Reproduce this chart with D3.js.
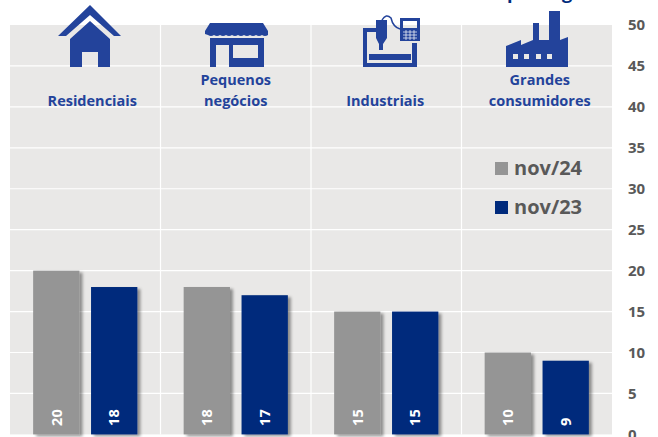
<!DOCTYPE html>
<html lang="pt-BR">
<head>
<meta charset="UTF-8" />
<title>Segmentos</title>
<style>
    html, body { margin: 0; padding: 0; background: #fff; overflow: hidden; }
    text { font-family: "Open Sans", "Noto Sans", sans-serif; font-weight: 700; }
</style>
</head>
<body>
<svg id="chart" width="658" height="437"></svg>
<script src="https://d3js.org/d3.v7.min.js"></script>
<script>
const categories = [['Residenciais'], ['Pequenos', 'negócios'], ['Industriais'], ['Grandes', 'consumidores']];
const seriesNames = ['nov/24', 'nov/23'];
const nov24 = [20, 18, 15, 10];
const nov23 = [18, 17, 15, 9];
const yTicks = [0, 5, 10, 15, 20, 25, 30, 35, 40, 45, 50];

const blue = '#23439B', gray = '#959595', navy = '#002A7C', tickGray = '#595959';
const svg = d3.select('#chart');
const plot = { left: 10, right: 612, top: 25, bottom: 434.4 };

const x = d3.scaleBand().domain(d3.range(categories.length)).range([plot.left, plot.right]);
const x1 = d3.scaleBand().domain(seriesNames).range([0, x.bandwidth()]).paddingInner(0.2).paddingOuter(0.4);
const y = d3.scaleLinear().domain([0, 50]).range([plot.bottom, plot.top]);
const color = d3.scaleOrdinal(seriesNames, [gray, navy]);

// sombra das barras
svg.append('defs').append('filter').attr('id', 'shadow')
    .attr('x', '-10%').attr('y', '-5%').attr('width', '130%').attr('height', '115%')
    .append('feDropShadow')
    .attr('dx', 3).attr('dy', 2).attr('stdDeviation', 1.5)
    .attr('flood-color', '#000').attr('flood-opacity', 0.4);

svg.append('rect').attr('x', plot.left).attr('y', plot.top)
    .attr('width', plot.right - plot.left).attr('height', plot.bottom - plot.top).attr('fill', '#E9E8E7');

// grade
svg.append('g').selectAll('line').data(yTicks.filter(d => d > 0 && d < 50)).join('line')
    .attr('x1', plot.left).attr('x2', plot.right).attr('y1', d => y(d)).attr('y2', d => y(d))
    .attr('stroke', '#fff').attr('stroke-width', 1.2);
svg.append('g').selectAll('line').data(d3.range(1, categories.length)).join('line')
    .attr('x1', d => x(d)).attr('x2', d => x(d)).attr('y1', plot.top).attr('y2', plot.bottom)
    .attr('stroke', '#fff').attr('stroke-width', 1.2);

// eixo y a direita
const yAxis = svg.append('g').attr('transform', `translate(${plot.right},0)`)
    .call(d3.axisRight(y).tickValues(yTicks).tickSize(0).tickPadding(16));
yAxis.select('.domain').remove();
yAxis.selectAll('text').attr('font-size', 15).attr('fill', tickGray).style('font-family', '"Open Sans", sans-serif');

// barras
const rows = categories.map((c, i) => [
    { s: seriesNames[0], v: nov24[i], i },
    { s: seriesNames[1], v: nov23[i], i }
]).flat();
svg.append('g').selectAll('rect').data(rows).join('rect')
    .attr('x', d => x(d.i) + x1(d.s))
    .attr('y', d => y(d.v))
    .attr('width', x1.bandwidth())
    .attr('height', d => y(0) - y(d.v))
    .attr('fill', d => color(d.s))
    .attr('filter', 'url(#shadow)');

// rotulos das barras
svg.append('g').selectAll('text').data(rows).join('text')
    .attr('transform', d => `translate(${x(d.i) + x1(d.s) + x1.bandwidth() / 2},${y(0) - 8.5}) rotate(-90)`)
    .attr('dy', '0.36em')
    .attr('font-size', 14.5)
    .attr('fill', '#fff')
    .text(d => d.v);

// nomes das categorias
const labelShift = [7, 0, -1, 3];
const labels = svg.append('g').selectAll('text').data(categories).join('text')
    .attr('text-anchor', 'middle')
    .attr('font-size', 14.5)
    .attr('fill', blue)
    .attr('transform', (d, i) => `translate(${x(i) + x.bandwidth() / 2 + labelShift[i]},0)`);
labels.selectAll('tspan').data(d => d).join('tspan')
    .attr('x', 0)
    .attr('y', function (d, j) {
        const n = d3.select(this.parentNode).datum().length;
        return 106 - (n - 1 - j) * 21.5;
    })
    .text(d => d);

// legenda
const legend = svg.append('g').selectAll('g').data(seriesNames).join('g')
    .attr('transform', (d, i) => `translate(495,${168 + i * 39})`);
legend.append('rect').attr('y', -6).attr('width', 13).attr('height', 13).attr('fill', d => color(d));
legend.append('text').attr('x', 19).attr('y', 6.5).attr('font-size', 20).attr('fill', tickGray).text(d => d);

// icones
const icons = svg.append('g').attr('fill', blue);
icons.append('path').attr('d', 'M90 5 L121 36 L114 36 L90 15 L66 36 L58 36 Z M90 21 L110 39 L110 67 L98 67 L98 52 L82 52 L82 67 L70 67 L70 39 Z');
icons.append('path').attr('d', 'M210 23 L263 23 L268 31 L268 35 Q265 37 262 35 Q259 37 256 35 Q253 37 250 35 Q247 37 244 35 Q241 37 238 35 Q235 37 232 35 Q229 37 226 35 Q223 37 220 35 Q217 37 214 35 Q211 37 208 35 L205 34 L205 31 Z');
icons.append('path').attr('fill-rule', 'evenodd').attr('d', 'M210 38 L264 38 L264 67 L210 67 Z M216 45 L216 67 L229 67 L229 45 Z M233 45 L233 58 L258 58 L258 45 Z');
icons.append('path').attr('fill-rule', 'evenodd').attr('d', 'M363 28 L376 28 L376 32 L367 32 L367 63 L412 63 L412 43 L417 43 L417 67 L363 67 Z');
icons.append('path').attr('d', 'M376 20 L387 20 L387 38 L383 44 L383 50 L379 50 L379 44 L376 38 Z M369 54 L411 54 L411 60 L369 60 Z');
icons.append('path').attr('fill-rule', 'evenodd').attr('d', 'M400 18 L420 18 L420 41 L400 41 Z M403 21 L403 28 L417 28 L417 21 Z');
icons.append('path').attr('fill', 'none').attr('stroke', blue).attr('stroke-width', 1.5).attr('d', 'M382 20 Q386 13 391 18 Q393 27 400 29');
icons.append('path').attr('fill', 'none').attr('stroke', '#fff').attr('stroke-width', 0.7).attr('d', 'M403 32 H417 M403 35 H417 M403 38 H417 M406 30 V40 M410 30 V40 M414 30 V40');
icons.append('path').attr('fill-rule', 'evenodd').attr('d', 'M506 46 L521 40 L521 45 L533 40 L533 23 L539 23 L539 40 L549 40 L549 11 L560 11 L560 40 L568 37 L568 67 L506 67 Z M513 54 L513 59 L518 59 L518 54 Z M524 54 L524 59 L529 59 L529 54 Z M536 54 L536 59 L541 59 L541 54 Z M547 54 L547 59 L552 59 L552 54 Z');

// titulo cortado no topo
svg.append('text').attr('x', 507).attr('y', -1).attr('font-size', 18).attr('fill', navy).text('por segmento');
</script>
</body>
</html>
